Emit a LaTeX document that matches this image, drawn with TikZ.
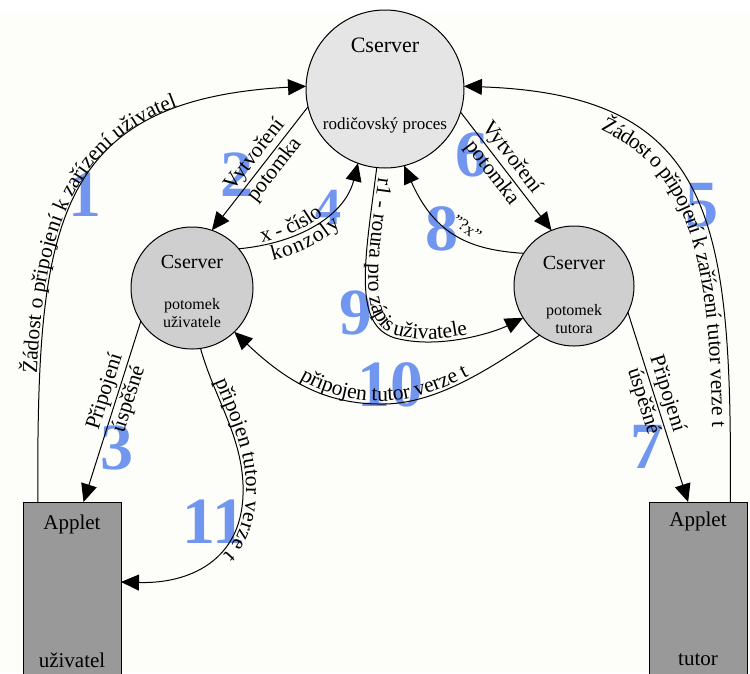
\documentclass[tikz,border=0pt]{standalone}
\usepackage{fontspec}
\setmainfont{Liberation Serif}
\usetikzlibrary{arrows.meta,decorations.text}

\definecolor{stepblue}{RGB}{112,150,240}
\definecolor{paper}{RGB}{253,253,249}
\newcommand{\lblfont}{\fontsize{21.5}{25}\selectfont}
\newcommand{\numfont}{\fontsize{66}{66}\selectfont\bfseries}
\newcommand{\bigfont}{\fontsize{21}{24}\selectfont}
\newcommand{\smallfont}{\fontsize{16}{18}\selectfont}

\begin{document}
\begin{tikzpicture}[x=1pt,y=-1pt,
  proc/.style={circle,draw,line width=1pt,inner sep=0pt,outer sep=0pt},
  parentproc/.style={proc,fill=gray!20,minimum size=158pt},
  childproc/.style={proc,fill=gray!38,minimum size=122pt},
  appletbox/.style={rectangle,draw,line width=1pt,fill=gray!80,
    minimum width=98pt,minimum height=188pt,inner sep=0pt,outer sep=0pt},
  flow/.style={line width=1pt,-{Triangle[length=18pt,width=16pt]}},
  flowback/.style={line width=1pt,{Triangle[length=18pt,width=16pt]}-},
  stepno/.style={text=stepblue,font=\numfont,inner sep=0pt},
  lbl/.style={font=\lblfont,align=center,inner sep=1pt},
  titletext/.style={font=\bigfont,inner sep=0pt},
  subtext/.style={font=\smallfont,align=center,inner sep=0pt},
]
\useasboundingbox (0,0) rectangle (750,673);
\clip (0,0) rectangle (750,673);
\fill[white] (0,0) rectangle (750,673);
\fill[paper] (0,13) rectangle (750,673);

% step numbers (behind everything else)
\node[stepno] (n1) at (85,195) {1};
\node[stepno] (n2) at (237,175) {2};
\node[stepno] (n3) at (117,448) {3};
\node[stepno,font=\fontsize{52}{52}\selectfont\bfseries] (n4) at (328,207) {4};
\node[stepno] (n5) at (702,205) {5};
\node[stepno] (n6) at (472,155) {6};
\node[stepno] (n7) at (647,447) {7};
\node[stepno] (n8) at (442,229) {8};
\node[stepno] (n9) at (356,313) {9};
\node[stepno] (n10) at (390,385) {10};
\node[stepno] (n11) at (214,522) {11};

% processes
\node[parentproc] (p) at (385,89) {};
\node[titletext,font=\fontsize{22}{24}\selectfont] (pt) at (385,45) {Cserver};
\node[subtext,font=\fontsize{17}{19}\selectfont] (ps) at (385,125) {rodičovský proces};

\node[childproc] (c1) at (192,288) {};
\node[titletext,font=\fontsize{20}{22}\selectfont] (c1t) at (192,262) {Cserver};
\node[subtext] (c1s) at (192,313) {potomek\\uživatele};

\node[childproc,minimum size=120pt] (c2) at (574,286) {};
\node[titletext,font=\fontsize{20}{22}\selectfont] (c2t) at (574,263) {Cserver};
\node[subtext] (c2s) at (574,319) {potomek\\tutora};

% applets
\node[appletbox] (a1) at (72,596) {};
\node[titletext] (a1t) at (72,524) {Applet};
\node[titletext] (a1s) at (72,660) {uživatel};

\node[appletbox] (a2) at (698,596) {};
\node[titletext] (a2t) at (698,521) {Applet};
\node[titletext] (a2s) at (698,660) {tutor};

% 1: user applet asks the parent for a device
\draw[flow,postaction={decorate,decoration={text along path,
    text={|\lblfont|Žádost o připojení k zařízení uživatel},
    text align={left indent=128pt},raise=3pt}}]
  (a1.110) .. controls (37,230) and (50,100) .. (p.178);

% 5: tutor applet asks the parent for a device
\draw[flowback,postaction={decorate,decoration={text along path,
    text={|\lblfont|Žádost o připojení k zařízení tutor verze t},
    text align={left indent=148pt},raise=-18pt}}]
  (p.2) .. controls (715,95) and (732,220) .. (a2.71);

% 2, 6: forking the children
\draw[flow] (p.193) -- node[lbl,sloped,pos=0.45] (l2) {Vytvoření\\potomka} (c1.71);
\draw[flow] (p.343) -- node[lbl,sloped,pos=0.45] (l6) {Vytvoření\\potomka} (c2.112);

% 3, 7: connection confirmed
\draw[flow] (c1.213) -- node[lbl,sloped,pos=0.41] (l3) {Připojení\\úspěšné} (a1.83);
\draw[flow] (c2.334) -- node[lbl,sloped,pos=0.45] (l7) {Připojení\\úspěšné} (a2.96);

% 4: console number back to the parent
\draw[flow,
  postaction={decorate,decoration={text along path,
    text={|\lblfont|x - číslo},text align={left indent=24pt},raise=3pt}},
  postaction={decorate,decoration={text along path,
    text={|\lblfont|konzoly},text align={left indent=30pt},raise=-17pt}}]
  (c1.40) .. controls (300,243) and (345,215) .. (p.250);

% 8: query from the tutor child
\draw[flow] (c2.147) .. controls (470,250) and (435,235) .. (p.284);
\node[lbl,font=\fontsize{17}{19}\selectfont,rotate=-35] (l8) at (467,228) {"?x"};

% 9: pipe for writing the user
\draw[flow,postaction={decorate,decoration={text along path,
    text={|\lblfont|r1 - roura pro zápis uživatele},
    text align={left indent=10pt},raise=3pt}}]
  (p.264) .. controls (365,260) and (352,325) .. (395,338)
          .. controls (440,350) and (495,332) .. (c2.212);

% 10: tutor connected, told to the user child
\draw[flowback,postaction={decorate,decoration={text along path,
    text={|\lblfont|připojen tutor verze t},
    text align={align=center},raise=3pt}}]
  (c1.314) .. controls (290,385) and (330,405) .. (385,404)
           .. controls (440,403) and (495,365) .. (c2.235);

% 11: tutor connected, told to the user applet
\draw[flow,postaction={decorate,decoration={text along path,
    text={|\lblfont|připojen tutor verze t},
    text align={left indent=36pt},raise=3pt}}]
  (c1.278) .. controls (215,400) and (245,440) .. (243,495)
           .. controls (241,560) and (190,584) .. (a1.16);
\end{tikzpicture}
\end{document}
